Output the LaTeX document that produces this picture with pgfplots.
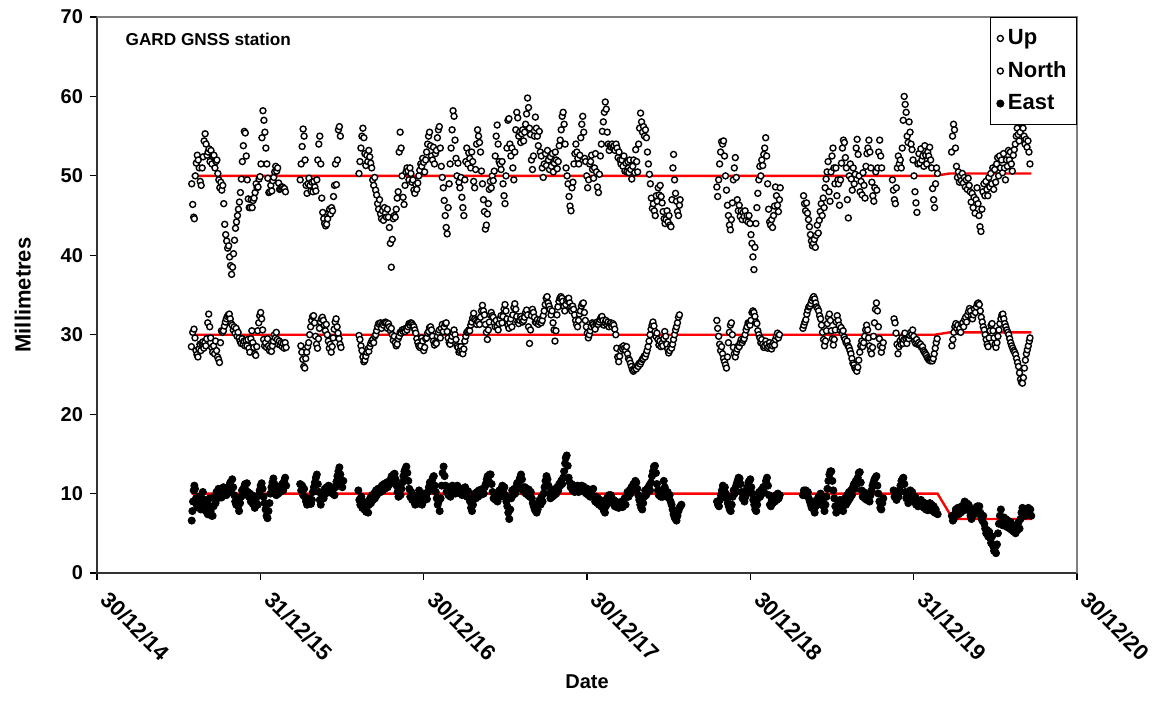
\documentclass[border=0pt]{standalone}
\usepackage{fontspec}
\setmainfont{Liberation Sans}
\usepackage{pgfplots}
\pgfplotsset{compat=1.18}
\begin{document}
\begin{tikzpicture}
\begin{axis}[
  scale only axis, width=490pt, height=278pt,
  xmin=0, xmax=6, ymin=0, ymax=70,
  clip=false,
  xtick={0,1,2,3,4,5,6},
  xticklabels={30/12/14,31/12/15,30/12/16,30/12/17,30/12/18,31/12/19,30/12/20},
  ytick={0,10,...,70},
  tick align=outside, xtick pos=bottom, ytick pos=left,
  major tick length=3.5pt,
  tick style={black, line width=0.6pt},
  axis line style={black!80, line width=0.7pt},
  /pgf/number format/assume math mode=true,
  ticklabel style={font=\bfseries},
  xticklabel style={xshift=7pt, rotate=-45, anchor=north west, font=\fontsize{11}{13}\selectfont\bfseries},
  xlabel={\bfseries Date}, ylabel={\fontsize{11}{13}\selectfont\bfseries Millimetres},
  xlabel style={yshift=2pt},
  ylabel shift=8pt,
  legend style={at={(1,1)}, anchor=north east, draw=black, font=\fontsize{11}{13}\selectfont\bfseries, row sep=3pt, inner xsep=3pt, inner ysep=4pt},
  legend image code/.code={\draw[mark repeat=2, mark phase=2, #1] plot coordinates {(0cm,0cm) (0.22cm,0cm) (0.44cm,0cm)};},
  legend cell align=left,
]
% fitted trend lines
\addplot[red, line width=1.2pt, forget plot] coordinates {(0.58,50) (5.13,50) (5.22,50.3) (5.72,50.3)};
\addplot[red, line width=1.2pt, forget plot] coordinates {(0.58,30) (5.13,30) (5.22,30.3) (5.72,30.3)};
\addplot[red, line width=1.2pt, forget plot] coordinates {(0.58,10) (5.146,10) (5.24,6.8) (5.72,6.8)};

% Up
\addplot[only marks, mark=*, mark size=1.5pt, mark options={fill=white, draw=black, line width=0.7pt}] coordinates {
(0.580,49.0) (0.586,46.4) (0.592,44.8) (0.596,44.6) (0.602,50.0) (0.608,51.6) (0.614,52.6) (0.620,52.0) (0.626,51.0) (0.632,49.3) (0.638,48.8) (0.644,51.0) (0.650,52.4) (0.656,54.4) (0.662,55.3) (0.668,54.0) (0.674,52.6) (0.680,53.0) (0.686,53.4) (0.692,51.8) (0.698,53.2) (0.704,51.5) (0.710,52.6) (0.716,52.6) (0.722,51.0) (0.728,51.8) (0.734,52.0) (0.740,50.3) (0.746,49.5) (0.752,48.5) (0.758,49.2) (0.764,48.2) (0.770,48.8) (0.776,46.5) (0.782,43.9) (0.788,42.6) (0.794,41.8) (0.800,40.9) (0.806,41.2) (0.812,39.8) (0.818,38.7) (0.824,37.6) (0.830,38.5) (0.836,40.2) (0.842,41.9) (0.848,43.4) (0.854,44.2) (0.860,45.0) (0.866,45.8) (0.872,46.7) (0.878,47.9) (0.884,49.6) (0.890,51.8) (0.896,53.8) (0.902,55.6) (0.908,55.4) (0.914,52.5) (0.920,49.5) (0.926,47.1) (0.932,46.0) (0.938,46.0) (0.944,47.0) (0.950,46.0) (0.956,46.9) (0.962,47.2) (0.968,47.9) (0.974,49.0) (0.980,48.5) (0.986,48.6) (0.992,49.6) (0.998,49.9) (1.004,51.5) (1.010,54.8) (1.016,58.2) (1.022,57.0) (1.028,55.5) (1.034,53.5) (1.040,51.5) (1.046,49.7) (1.052,47.9) (1.058,48.0) (1.064,48.8) (1.070,48.1) (1.076,49.4) (1.082,49.8) (1.088,50.5) (1.094,51.2) (1.100,50.6) (1.106,51.0) (1.112,49.1) (1.118,48.3) (1.124,48.4) (1.130,48.6) (1.136,48.6) (1.142,48.4) (1.148,48.4) (1.154,48.0)
(1.244,49.5) (1.250,51.5) (1.256,53.7) (1.262,55.9) (1.268,55.0) (1.274,52.0) (1.280,48.8) (1.286,47.8) (1.292,49.0) (1.298,49.7) (1.304,48.8) (1.310,48.1) (1.316,49.2) (1.322,48.0) (1.328,49.3) (1.334,48.6) (1.340,48.1) (1.346,49.5) (1.352,52.0) (1.358,54.0) (1.364,55.0) (1.370,51.5) (1.376,47.2) (1.382,45.4) (1.388,44.6) (1.394,44.0) (1.400,43.7) (1.406,43.9) (1.412,44.6) (1.418,45.3) (1.424,45.8) (1.430,45.2) (1.436,46.0) (1.442,45.6) (1.448,47.4) (1.454,48.8) (1.460,51.5) (1.466,48.9) (1.472,52.0) (1.478,55.8) (1.484,56.2) (1.490,55.0)
(1.604,50.3) (1.610,51.8) (1.616,53.5) (1.622,55.0) (1.628,56.0) (1.634,54.8) (1.640,52.8) (1.646,51.3) (1.652,52.6) (1.658,51.8) (1.664,53.2) (1.670,52.4) (1.676,51.6) (1.682,51.0) (1.688,49.5) (1.694,48.8) (1.700,49.8) (1.706,48.2) (1.712,47.6) (1.718,46.5) (1.724,45.8) (1.730,47.0) (1.736,45.2) (1.742,44.6) (1.748,45.6) (1.754,44.4) (1.760,46.0) (1.766,45.3) (1.772,44.8) (1.778,45.8) (1.784,44.8) (1.790,43.5) (1.796,41.5) (1.802,38.5) (1.808,42.0) (1.814,44.6) (1.820,45.0) (1.826,44.8) (1.832,45.8) (1.838,47.2) (1.844,48.0) (1.850,53.0) (1.856,55.5) (1.862,53.5) (1.868,50.0) (1.874,47.3) (1.880,46.4) (1.886,48.8) (1.892,50.5) (1.898,51.0) (1.904,50.6) (1.910,49.5) (1.916,51.0) (1.922,50.3) (1.928,49.2) (1.934,49.5) (1.940,48.2) (1.946,47.8) (1.952,48.9) (1.958,48.3) (1.964,49.1) (1.970,50.0) (1.976,50.7) (1.982,51.5) (1.988,51.2) (1.994,52.2) (2.000,51.7)
(2.006,50.5) (2.012,52.0) (2.018,53.0) (2.024,54.0) (2.030,55.0) (2.036,55.5) (2.042,53.8) (2.048,52.5) (2.054,52.0) (2.060,53.6) (2.066,51.5) (2.072,52.8) (2.078,53.2) (2.084,54.8) (2.090,55.8) (2.096,56.2) (2.102,53.5) (2.108,51.2) (2.114,49.8) (2.120,48.5) (2.126,46.9) (2.132,45.0) (2.138,43.5) (2.144,42.7) (2.150,46.0) (2.156,49.0) (2.162,51.5) (2.168,53.5) (2.174,55.8) (2.180,58.2) (2.186,57.5) (2.192,54.5) (2.198,52.2) (2.204,50.0) (2.210,51.6) (2.216,49.2) (2.222,48.5) (2.228,49.8) (2.234,47.3) (2.240,46.0) (2.246,45.0) (2.252,49.5) (2.258,51.8) (2.264,53.5) (2.270,51.5) (2.276,52.9) (2.282,52.2) (2.288,51.0) (2.294,53.0) (2.300,51.8) (2.306,49.3) (2.312,48.5) (2.318,50.8) (2.324,54.0) (2.330,55.8) (2.336,55.0) (2.342,54.2) (2.348,53.0) (2.354,50.6) (2.360,49.0) (2.366,47.0) (2.372,45.5) (2.378,43.3) (2.384,43.8) (2.390,45.2) (2.396,46.5) (2.402,48.3) (2.408,49.3) (2.414,48.5) (2.420,50.0) (2.426,49.4) (2.432,50.6) (2.438,52.5) (2.444,55.0) (2.450,56.4) (2.456,54.0) (2.462,51.8) (2.468,51.5) (2.474,50.8) (2.480,51.8) (2.486,49.0) (2.492,47.5) (2.498,46.5) (2.504,50.0) (2.510,53.5) (2.516,57.0) (2.522,57.2) (2.528,54.0) (2.534,52.5) (2.540,53.5) (2.546,51.0) (2.552,49.5) (2.558,53.0) (2.564,55.8) (2.570,58.0) (2.576,57.3) (2.582,55.0) (2.588,55.5) (2.594,54.2) (2.600,55.3) (2.606,55.8) (2.612,54.4) (2.618,55.5) (2.624,56.5) (2.630,57.8) (2.636,59.8) (2.642,58.6) (2.648,56.0) (2.654,55.2) (2.660,52.0) (2.666,50.8) (2.672,52.5) (2.678,55.0) (2.684,57.4) (2.690,56.0) (2.696,55.0) (2.702,53.8) (2.708,55.6) (2.714,53.0) (2.720,52.5) (2.726,51.0) (2.732,49.8) (2.738,51.5) (2.746,52.8) (2.752,51.3) (2.758,53.2) (2.764,52.0) (2.770,50.8) (2.776,52.4) (2.782,51.2) (2.788,52.8) (2.794,50.5) (2.800,51.6) (2.806,53.0) (2.812,52.0) (2.818,50.9) (2.824,51.8) (2.830,53.8) (2.836,54.5) (2.842,55.8) (2.848,57.5) (2.854,58.0) (2.860,56.5) (2.866,54.0) (2.872,51.0) (2.878,50.0) (2.884,49.0) (2.890,47.4) (2.896,46.2) (2.902,45.6) (2.908,48.5) (2.914,49.2) (2.920,51.5) (2.926,52.8) (2.932,54.0) (2.938,53.0) (2.944,52.2) (2.950,51.5) (2.956,52.6) (2.962,54.8) (2.968,56.5) (2.974,57.5) (2.980,55.5) (2.986,52.2) (2.992,51.8)
(2.998,50.0) (3.004,48.5) (3.010,49.5) (3.016,51.5) (3.022,51.8) (3.028,52.6) (3.034,50.8) (3.040,49.7) (3.046,51.0) (3.052,52.8) (3.058,50.5) (3.064,48.6) (3.070,47.9) (3.076,50.2) (3.082,52.5) (3.088,54.0) (3.094,55.6) (3.100,56.8) (3.106,58.0) (3.112,59.3) (3.118,58.4) (3.124,55.5) (3.130,54.0) (3.136,53.2) (3.142,53.8) (3.148,53.6) (3.154,54.0) (3.160,53.6) (3.166,53.8) (3.172,53.2) (3.178,54.0) (3.184,53.5) (3.190,52.3) (3.196,53.0) (3.202,52.0) (3.208,51.5) (3.214,52.0) (3.220,51.2) (3.226,52.5) (3.232,50.6) (3.238,51.6) (3.244,50.5) (3.250,51.8) (3.256,50.4) (3.262,52.0) (3.268,50.8) (3.274,49.6) (3.280,51.2) (3.286,52.0) (3.292,50.4) (3.298,53.3) (3.304,51.8) (3.310,50.5) (3.316,54.0) (3.322,56.0) (3.328,57.9) (3.334,56.8) (3.340,55.5) (3.346,56.2) (3.352,55.0) (3.358,55.8) (3.364,54.8) (3.370,53.0) (3.376,51.5) (3.382,50.2) (3.388,49.0) (3.394,47.2) (3.400,45.9) (3.406,46.5) (3.412,45.6) (3.418,45.0) (3.424,47.5) (3.430,46.8) (3.436,48.5) (3.442,47.6) (3.448,48.8) (3.454,47.4) (3.460,46.6) (3.466,45.5) (3.472,44.6) (3.478,44.0) (3.484,44.5) (3.490,45.6) (3.496,44.2) (3.502,45.0) (3.508,43.8) (3.514,43.6) (3.520,47.0) (3.526,51.0) (3.530,52.7) (3.536,49.5) (3.542,47.8) (3.548,46.8) (3.554,45.5) (3.560,45.0) (3.566,46.3) (3.570,47.0)
(3.795,48.6) (3.800,47.4) (3.806,49.5) (3.812,51.5) (3.818,53.0) (3.824,54.3) (3.830,54.0) (3.836,54.4) (3.842,52.5) (3.848,50.0) (3.854,48.2) (3.860,46.3) (3.866,45.0) (3.872,43.8) (3.878,43.2) (3.884,44.5) (3.890,46.6) (3.896,49.5) (3.902,51.0) (3.908,52.3) (3.914,49.8) (3.920,47.0) (3.926,45.6) (3.932,46.3) (3.938,44.9) (3.944,45.6) (3.950,44.5) (3.956,45.4) (3.962,44.9) (3.968,45.6) (3.974,44.4) (3.980,45.0) (3.986,44.2) (3.992,45.0) (3.998,44.0) (4.004,42.6) (4.010,41.5) (4.016,39.8) (4.022,38.2) (4.028,41.0) (4.034,44.0) (4.040,46.0) (4.046,47.8) (4.052,49.5) (4.058,51.2) (4.064,50.0) (4.070,52.0) (4.076,51.3) (4.082,52.7) (4.088,53.5) (4.094,54.8) (4.100,52.5) (4.106,49.0) (4.112,45.8) (4.118,44.2) (4.124,43.8) (4.130,44.5) (4.136,43.5) (4.142,45.0) (4.148,46.2) (4.154,48.6) (4.160,47.5) (4.166,46.3) (4.172,45.5) (4.178,47.0) (4.183,48.5)
(4.326,47.5) (4.332,46.5) (4.338,45.6) (4.344,46.6) (4.350,45.3) (4.356,44.5) (4.362,43.6) (4.368,42.6) (4.374,41.8) (4.380,41.2) (4.386,41.5) (4.392,42.0) (4.398,41.0) (4.404,42.5) (4.410,43.8) (4.416,42.8) (4.422,44.4) (4.428,45.5) (4.434,46.5) (4.440,45.0) (4.446,47.2) (4.452,46.0) (4.458,48.5) (4.464,49.6) (4.470,50.5) (4.476,51.8) (4.482,48.0) (4.488,46.8) (4.494,50.5) (4.500,52.5) (4.506,53.5) (4.512,51.0) (4.518,49.0) (4.524,51.0) (4.530,47.5) (4.536,49.5)
(4.540,49.0) (4.546,46.3) (4.552,49.5) (4.558,51.6) (4.564,53.5) (4.570,54.5) (4.576,54.2) (4.582,52.3) (4.588,51.0) (4.594,47.0) (4.600,44.7) (4.606,50.0) (4.612,51.5) (4.618,49.6) (4.624,48.2) (4.630,51.0) (4.636,49.0) (4.642,50.2) (4.648,53.5) (4.654,54.6) (4.660,52.7) (4.666,50.0) (4.672,48.0) (4.678,49.3) (4.684,47.6) (4.690,50.4) (4.696,48.8) (4.702,47.2) (4.708,51.2) (4.714,52.8) (4.720,53.5) (4.726,54.5) (4.732,53.0) (4.738,51.0) (4.744,49.2) (4.750,47.5) (4.756,46.8) (4.762,48.5) (4.768,50.5) (4.774,48.2) (4.780,51.0) (4.786,53.0) (4.792,54.5) (4.798,52.5) (4.804,51.0)
(4.870,49.5) (4.876,48.2) (4.882,47.0) (4.888,46.5) (4.894,48.5) (4.900,51.0) (4.906,52.5) (4.912,51.5) (4.918,52.0) (4.924,51.0) (4.930,53.5) (4.936,57.0) (4.942,60.0) (4.948,59.0) (4.954,58.0) (4.960,55.0) (4.966,54.2) (4.972,56.8) (4.978,55.5) (4.984,54.0) (4.990,53.3) (4.996,52.0) (5.002,50.0) (5.008,48.0) (5.014,46.6) (5.020,45.4) (5.026,51.5) (5.032,52.8) (5.038,51.6) (5.044,53.4) (5.050,52.0) (5.056,52.5) (5.062,51.2) (5.068,53.8) (5.074,52.6) (5.080,51.5) (5.086,53.0) (5.092,52.5) (5.098,53.6) (5.104,52.0) (5.110,51.0) (5.116,48.4) (5.122,47.0) (5.128,46.0) (5.134,49.0) (5.140,51.0) (5.146,50.3)
(5.232,53.0) (5.238,55.0) (5.244,56.5) (5.250,55.8) (5.256,53.5) (5.262,51.2) (5.268,49.8) (5.274,50.5) (5.280,49.2) (5.286,50.0) (5.292,49.4) (5.298,50.3) (5.304,49.1) (5.310,49.8) (5.316,48.6) (5.322,49.5) (5.328,48.3) (5.334,49.7) (5.340,48.8) (5.346,48.0) (5.352,46.7) (5.358,47.8) (5.364,46.0) (5.370,47.3) (5.376,45.3) (5.382,47.0) (5.388,48.5) (5.394,46.5) (5.400,45.0) (5.406,43.6) (5.412,43.0) (5.418,45.8) (5.424,48.0) (5.430,49.0) (5.436,47.5) (5.442,49.3) (5.448,48.3) (5.454,47.5) (5.460,49.8) (5.466,48.6) (5.472,50.3) (5.478,49.0) (5.484,51.0) (5.490,48.3) (5.496,50.8) (5.502,49.2) (5.508,51.5) (5.514,52.3) (5.520,50.0) (5.526,52.5) (5.532,51.0) (5.538,52.0) (5.544,50.4) (5.550,52.8) (5.556,51.0) (5.562,49.5) (5.568,52.0) (5.574,51.2) (5.580,53.2) (5.586,52.0) (5.592,53.0) (5.598,51.5) (5.604,50.6) (5.610,52.6) (5.616,53.3) (5.622,54.0) (5.628,55.0) (5.634,56.0) (5.640,55.2) (5.646,54.4) (5.652,55.5) (5.658,56.7) (5.664,56.9) (5.670,56.0) (5.676,55.0) (5.682,54.0) (5.688,54.6) (5.694,53.6) (5.700,54.4) (5.706,53.0) (5.712,51.5)
};
\addlegendentry{Up}

% North
\addplot[only marks, mark=*, mark size=1.5pt, mark options={fill=white, draw=black, line width=0.7pt}] coordinates {
(0.578,28.5) (0.586,30.3) (0.594,30.7) (0.600,29.6) (0.606,28.0) (0.612,27.5) (0.618,27.2) (0.624,28.2) (0.630,28.8) (0.636,28.0) (0.642,28.9) (0.648,29.1) (0.654,28.3) (0.660,29.0) (0.666,28.6) (0.672,29.5) (0.678,31.5) (0.684,32.6) (0.690,31.0) (0.696,29.6) (0.702,28.4) (0.708,27.8) (0.714,28.6) (0.720,27.6) (0.726,29.2) (0.732,28.0) (0.738,27.2) (0.744,26.9) (0.750,26.5) (0.756,29.0) (0.762,30.5) (0.768,30.3) (0.774,30.5) (0.780,31.1) (0.786,31.6) (0.792,32.0) (0.798,32.3) (0.804,32.5) (0.810,32.6) (0.816,32.0) (0.822,31.4) (0.828,31.2) (0.834,30.6) (0.840,31.0) (0.846,30.2) (0.852,30.8) (0.858,29.8) (0.864,30.3) (0.870,29.6) (0.876,29.2) (0.882,28.9) (0.888,29.5) (0.894,28.8) (0.900,29.2) (0.906,28.6) (0.912,29.3) (0.918,28.6) (0.924,29.4) (0.930,28.3) (0.936,27.8) (0.942,29.5) (0.948,30.5) (0.954,29.0) (0.960,28.4) (0.966,27.6) (0.972,27.4) (0.978,28.5) (0.984,30.5) (0.990,31.5) (0.996,32.4) (1.002,32.8) (1.008,32.0) (1.014,30.6) (1.020,29.4) (1.026,28.6) (1.032,29.0) (1.038,28.4) (1.044,29.5) (1.050,28.6) (1.056,28.0) (1.062,28.4) (1.068,27.9) (1.074,28.6) (1.080,29.2) (1.086,30.0) (1.092,29.6) (1.098,30.3) (1.104,29.4) (1.110,28.8) (1.116,29.2) (1.122,28.7) (1.128,29.0) (1.134,28.5) (1.140,28.9) (1.146,28.3) (1.152,29.0) (1.158,28.4)
(1.248,28.6) (1.254,27.8) (1.260,26.9) (1.266,26.0) (1.272,25.8) (1.278,27.0) (1.284,27.8) (1.290,28.5) (1.296,29.0) (1.302,30.0) (1.308,31.0) (1.314,31.8) (1.320,32.3) (1.326,32.4) (1.332,31.5) (1.338,29.8) (1.344,28.8) (1.350,28.3) (1.356,29.5) (1.362,30.8) (1.368,31.6) (1.374,32.0) (1.380,32.2) (1.386,31.8) (1.392,31.2) (1.398,30.5) (1.404,31.3) (1.410,30.0) (1.416,29.2) (1.422,28.3) (1.428,28.8) (1.434,27.8) (1.440,28.5) (1.446,29.6) (1.452,30.7) (1.458,31.6) (1.464,32.0) (1.470,31.0) (1.476,30.2) (1.482,29.5) (1.488,28.8) (1.494,28.4)
(1.604,29.9) (1.610,29.4) (1.616,28.6) (1.622,28.0) (1.628,27.2) (1.634,26.6) (1.640,26.8) (1.646,27.3) (1.652,27.8) (1.658,28.2) (1.664,27.9) (1.670,28.5) (1.676,28.9) (1.682,29.2) (1.688,29.4) (1.694,29.0) (1.700,29.8) (1.706,30.0) (1.712,30.5) (1.718,31.0) (1.724,31.4) (1.730,31.3) (1.736,31.5) (1.742,30.8) (1.748,31.4) (1.754,31.2) (1.760,31.5) (1.766,31.6) (1.772,31.5) (1.778,30.8) (1.784,31.4) (1.790,31.0) (1.796,30.5) (1.802,30.8) (1.808,30.0) (1.814,29.3) (1.820,29.8) (1.826,29.0) (1.832,28.6) (1.838,28.8) (1.844,29.5) (1.850,29.8) (1.856,30.3) (1.862,30.2) (1.868,30.6) (1.874,30.4) (1.880,30.7) (1.886,30.4) (1.892,30.8) (1.898,30.6) (1.904,31.0) (1.910,31.4) (1.916,31.2) (1.922,31.5) (1.928,31.4) (1.934,31.2) (1.940,31.0) (1.946,30.6) (1.952,30.2) (1.958,29.5) (1.964,29.0) (1.970,28.6) (1.976,28.4)
(1.982,28.6) (1.988,29.6) (1.994,29.2) (2.000,28.0) (2.006,28.4) (2.012,29.5) (2.018,29.6) (2.024,30.2) (2.030,30.4) (2.036,30.9) (2.042,31.0) (2.048,30.6) (2.054,29.8) (2.060,29.2) (2.066,28.7) (2.072,29.0) (2.078,28.9) (2.084,29.8) (2.090,30.3) (2.096,30.6) (2.102,29.6) (2.108,30.8) (2.114,31.3) (2.120,30.4) (2.126,31.0) (2.132,31.4) (2.138,31.5) (2.144,30.4) (2.150,29.6) (2.156,29.0) (2.162,28.8) (2.168,29.3) (2.174,29.8) (2.180,30.3) (2.186,30.6) (2.192,30.0) (2.198,29.4) (2.204,28.6) (2.210,28.4) (2.216,27.8) (2.222,28.0) (2.228,28.5) (2.234,28.0) (2.240,27.6) (2.246,28.2) (2.252,29.2) (2.258,29.8) (2.264,30.3) (2.270,30.4) (2.276,30.6) (2.282,30.5) (2.288,31.2) (2.294,31.6) (2.300,32.1) (2.306,32.7) (2.312,32.0) (2.318,31.8) (2.324,31.3) (2.330,31.7) (2.336,31.6) (2.342,31.3) (2.348,32.2) (2.354,33.0) (2.360,33.7) (2.366,33.0) (2.372,32.5) (2.378,31.3) (2.384,30.3) (2.390,29.4) (2.396,30.6) (2.402,31.6) (2.408,32.5) (2.414,32.8) (2.420,32.4) (2.426,32.2) (2.432,31.5) (2.438,31.0)
(2.444,31.8) (2.450,31.0) (2.456,30.6) (2.462,31.4) (2.468,32.0) (2.474,32.4) (2.480,31.5) (2.486,32.3) (2.492,33.2) (2.498,33.8) (2.504,33.0) (2.510,32.0) (2.516,31.2) (2.522,30.8) (2.528,31.5) (2.534,32.0) (2.540,31.0) (2.546,32.5) (2.552,33.4) (2.558,33.9) (2.564,33.2) (2.570,32.3) (2.576,31.6) (2.582,31.4) (2.588,31.8) (2.594,32.3) (2.600,32.0) (2.606,31.6) (2.612,31.8) (2.618,32.2) (2.624,32.8) (2.630,33.1) (2.636,32.5) (2.642,31.0) (2.648,28.9) (2.654,30.6) (2.660,32.4) (2.666,33.2) (2.672,32.8) (2.678,32.2) (2.684,31.6) (2.690,31.5) (2.696,31.9) (2.702,31.3) (2.708,31.6) (2.714,31.9) (2.720,31.5) (2.726,31.8) (2.732,32.4) (2.738,33.0) (2.744,33.8) (2.750,34.6) (2.756,34.8) (2.762,34.0) (2.768,33.6) (2.774,33.2) (2.780,32.5) (2.786,33.0) (2.792,31.5) (2.798,30.6) (2.804,29.2) (2.810,30.5) (2.816,32.5) (2.822,33.5) (2.828,34.2) (2.834,34.6) (2.840,34.8) (2.846,34.6) (2.852,34.2) (2.858,33.6) (2.864,33.0) (2.870,33.8) (2.876,34.3) (2.882,34.5) (2.888,34.6) (2.894,34.0) (2.900,33.5) (2.906,33.0) (2.912,33.6) (2.918,33.2) (2.924,32.5) (2.930,31.8) (2.936,31.3) (2.942,31.0) (2.948,31.8) (2.954,32.6) (2.960,33.0) (2.966,33.6) (2.972,33.9) (2.978,34.0) (2.984,32.8) (2.990,31.8) (2.996,31.0) (3.002,30.2) (3.008,29.6) (3.014,30.0) (3.020,30.5) (3.026,31.0) (3.032,31.5) (3.038,31.3) (3.044,31.0) (3.050,30.7) (3.056,31.4) (3.062,31.6) (3.068,31.3) (3.074,31.6) (3.080,31.9) (3.086,32.2) (3.092,32.3) (3.098,31.8) (3.104,31.2) (3.110,31.5) (3.116,31.8) (3.122,31.3) (3.128,31.6) (3.134,31.0) (3.140,31.4) (3.146,31.5) (3.152,31.0) (3.158,31.4) (3.164,31.2) (3.170,30.7) (3.176,30.0) (3.182,28.3) (3.188,27.2) (3.194,26.6) (3.200,27.3) (3.206,28.0) (3.212,28.4) (3.218,28.2) (3.224,28.6) (3.230,28.3) (3.236,28.0) (3.242,28.5) (3.248,27.6) (3.254,27.0) (3.260,26.8) (3.266,26.4) (3.272,26.0) (3.278,25.6)
(3.284,25.4) (3.290,25.6) (3.296,25.9) (3.302,25.7) (3.308,26.1) (3.314,26.0) (3.320,26.4) (3.326,26.3) (3.332,26.6) (3.338,26.9) (3.344,27.0) (3.350,27.3) (3.356,27.2) (3.362,27.6) (3.368,28.0) (3.374,28.5) (3.380,29.2) (3.386,30.0) (3.392,30.7) (3.398,31.2) (3.404,31.6) (3.410,31.1) (3.416,30.4) (3.422,29.8) (3.428,30.2) (3.434,29.4) (3.440,28.7) (3.446,29.2) (3.452,28.5) (3.458,28.9)
(3.464,28.6) (3.470,29.5) (3.476,30.4) (3.482,29.8) (3.488,28.8) (3.494,28.2) (3.500,27.7) (3.506,28.0) (3.512,28.6) (3.518,28.3) (3.524,28.8) (3.530,29.4) (3.536,30.0) (3.542,30.6) (3.548,31.0) (3.554,31.5) (3.560,32.2) (3.566,32.5)
(3.795,31.8) (3.800,30.8) (3.806,29.8) (3.812,28.8) (3.818,28.0) (3.824,28.5) (3.830,27.6) (3.836,27.0) (3.842,26.6) (3.848,26.2) (3.854,25.8) (3.860,27.2) (3.866,29.0) (3.872,30.3) (3.878,31.2) (3.884,31.5) (3.890,30.0) (3.896,28.4) (3.902,27.6) (3.908,27.2) (3.914,27.8) (3.920,28.2) (3.926,28.6) (3.932,28.5) (3.938,29.0) (3.944,29.4) (3.950,29.0) (3.956,29.3) (3.962,29.5) (3.968,30.0) (3.974,30.6) (3.980,31.0) (3.986,31.5) (3.992,31.4) (3.998,31.2) (4.004,31.8) (4.010,32.8) (4.016,33.0) (4.022,32.8) (4.028,32.3) (4.034,31.6) (4.040,31.4) (4.046,30.5) (4.052,30.0) (4.058,29.6) (4.064,29.0) (4.070,29.4) (4.076,28.8) (4.082,28.4) (4.088,28.6) (4.094,29.2) (4.100,28.8) (4.106,28.3) (4.112,28.5) (4.118,29.0) (4.124,28.6) (4.130,28.2) (4.136,28.6) (4.142,29.0) (4.148,28.7) (4.154,29.4) (4.160,29.8) (4.166,30.2) (4.172,29.6) (4.178,30.0)
(4.322,30.8) (4.328,31.2) (4.334,31.6) (4.340,31.9) (4.346,32.6) (4.352,33.1) (4.358,33.5) (4.364,33.6) (4.370,33.9) (4.376,34.3) (4.382,34.6) (4.388,34.8) (4.394,34.5) (4.400,34.0) (4.406,33.5) (4.412,33.3) (4.418,33.0) (4.424,32.4) (4.430,32.0) (4.436,31.2) (4.442,30.3) (4.448,29.4) (4.454,28.6) (4.460,29.2) (4.466,30.5) (4.472,31.4) (4.478,32.2) (4.484,32.6) (4.490,31.8) (4.496,30.5) (4.502,29.5) (4.508,28.7) (4.514,29.4) (4.520,30.6) (4.526,31.6) (4.532,32.4) (4.538,31.8) (4.544,31.2) (4.550,30.6) (4.556,30.9) (4.562,30.2) (4.568,30.5) (4.574,29.7) (4.580,29.4) (4.586,29.0) (4.592,29.2) (4.598,28.6) (4.604,28.4) (4.610,28.0) (4.616,27.6) (4.622,27.0) (4.628,26.4) (4.634,26.2) (4.640,25.8) (4.646,25.6)
(4.652,25.4) (4.658,25.9) (4.664,26.8) (4.670,27.8) (4.676,28.6) (4.682,29.2) (4.688,28.5) (4.694,29.0) (4.700,29.8) (4.706,30.6) (4.712,31.2) (4.718,30.6) (4.724,29.6) (4.730,28.6) (4.736,28.0) (4.742,27.6) (4.748,28.4) (4.754,29.8) (4.760,31.5) (4.766,33.2) (4.772,34.0) (4.778,33.0) (4.784,31.0) (4.790,29.5) (4.796,28.6) (4.802,27.8) (4.808,28.4) (4.814,29.0)
(4.880,32.0) (4.886,31.5) (4.892,30.2) (4.898,28.8) (4.904,27.6) (4.910,28.5) (4.916,29.2) (4.922,28.8) (4.928,29.6) (4.934,28.9) (4.940,29.4) (4.946,30.2) (4.952,29.5) (4.958,28.9) (4.964,29.6)
(4.970,29.5) (4.976,29.9) (4.982,30.3) (4.988,30.0) (4.994,30.6) (5.000,29.8) (5.006,29.2) (5.012,28.9) (5.018,29.4) (5.024,28.8) (5.030,29.0) (5.036,28.7) (5.042,28.8) (5.048,28.4) (5.054,28.5) (5.060,28.0) (5.066,27.8) (5.072,27.6) (5.078,27.4) (5.084,27.1) (5.090,26.9) (5.096,26.8) (5.102,26.7) (5.108,26.9) (5.114,26.7) (5.120,27.0) (5.126,27.6) (5.132,28.3) (5.138,29.0) (5.144,29.5)
(5.234,28.6) (5.240,29.4) (5.246,30.3) (5.252,31.0) (5.258,31.4) (5.264,30.8) (5.270,31.2) (5.276,30.4) (5.282,30.8) (5.288,30.3) (5.294,31.3) (5.300,31.5) (5.306,31.0) (5.312,31.9) (5.318,32.2) (5.324,31.6) (5.330,32.5) (5.336,32.9) (5.342,33.3) (5.348,33.0) (5.354,32.4) (5.360,32.0) (5.366,32.5) (5.372,33.2) (5.378,32.8) (5.384,33.5) (5.390,33.9) (5.396,34.0) (5.402,33.8) (5.408,33.0) (5.414,32.2) (5.420,31.6) (5.426,31.0) (5.432,30.6) (5.438,30.0) (5.444,29.4) (5.450,28.8) (5.456,28.5) (5.462,29.6) (5.468,30.5) (5.474,31.2) (5.480,31.4) (5.486,30.5) (5.492,29.6) (5.498,28.8) (5.504,28.4) (5.510,29.0) (5.516,29.8) (5.522,30.6) (5.528,31.4) (5.534,32.0) (5.540,32.5) (5.546,32.6) (5.552,32.0) (5.558,31.4) (5.564,31.0) (5.570,30.6) (5.576,30.3) (5.582,30.0) (5.588,29.5) (5.594,29.0) (5.600,28.6) (5.606,28.3) (5.612,28.0) (5.618,27.8) (5.624,27.5) (5.630,27.0) (5.636,26.5) (5.642,26.0) (5.648,25.2) (5.654,24.4) (5.660,24.0) (5.666,23.9) (5.672,24.6) (5.678,25.8) (5.684,26.8) (5.690,27.6) (5.696,28.1) (5.702,28.6) (5.708,29.2) (5.712,29.6)
};
\addlegendentry{North}

% East
\addplot[only marks, mark=*, mark size=1.8pt, black] coordinates {
(0.580,6.6) (0.584,7.8) (0.588,9.0) (0.592,10.4) (0.596,11.0) (0.600,10.6) (0.606,9.4) (0.612,8.5) (0.618,9.6) (0.624,8.2) (0.630,9.0) (0.636,8.0) (0.642,9.4) (0.648,10.2) (0.654,8.6) (0.660,9.2) (0.666,7.8) (0.672,8.9) (0.678,7.4) (0.684,8.5) (0.690,9.4) (0.696,7.8) (0.702,7.2)
(0.708,7.2) (0.714,8.4) (0.720,9.6) (0.726,8.8) (0.732,10.2) (0.738,9.4) (0.744,10.6) (0.750,9.8) (0.756,10.4) (0.762,9.5) (0.768,10.3) (0.774,10.8) (0.780,10.0) (0.786,10.6) (0.792,9.8) (0.798,10.5) (0.804,10.2) (0.810,11.0) (0.816,11.4) (0.822,10.6) (0.828,11.8) (0.834,10.8) (0.840,9.8) (0.846,9.0) (0.852,8.6) (0.858,9.4) (0.864,8.4) (0.870,7.8) (0.876,8.8) (0.882,9.6) (0.888,10.4) (0.894,9.8) (0.900,10.8) (0.906,11.2) (0.912,10.4) (0.918,11.3) (0.924,10.2) (0.930,9.6) (0.936,10.0) (0.942,9.0) (0.948,9.8) (0.954,8.7) (0.960,9.4) (0.966,8.2) (0.972,9.0) (0.978,9.6) (0.984,8.6) (0.990,9.8) (0.996,10.4) (1.002,11.0) (1.008,11.3) (1.014,10.6) (1.020,9.6) (1.026,8.8) (1.032,8.0) (1.038,7.2) (1.044,6.9) (1.050,7.8) (1.056,8.8) (1.062,10.0) (1.068,10.8) (1.074,11.4) (1.080,11.9) (1.086,11.2) (1.092,10.4) (1.098,9.8) (1.104,10.6) (1.110,10.0) (1.116,10.9) (1.122,10.2) (1.128,10.8) (1.134,11.2) (1.140,10.4) (1.146,11.6) (1.152,12.0) (1.158,11.0)
(1.244,11.2) (1.250,10.4) (1.256,11.0) (1.262,9.8) (1.268,10.6) (1.274,9.5) (1.280,9.0) (1.286,8.6) (1.292,9.2) (1.298,8.8) (1.304,9.4) (1.310,8.7) (1.316,9.2) (1.322,10.2) (1.328,10.8) (1.334,11.4) (1.340,12.0) (1.346,12.4) (1.352,11.2) (1.358,10.2) (1.364,9.2) (1.370,8.6) (1.376,9.4) (1.382,10.2) (1.388,9.4) (1.394,10.6) (1.400,10.0) (1.406,10.8) (1.412,10.3) (1.418,11.0) (1.424,10.4)
(1.430,10.2) (1.436,10.8) (1.442,10.0) (1.448,10.6) (1.454,9.8) (1.460,10.8) (1.466,11.5) (1.472,12.2) (1.478,12.8) (1.484,13.3) (1.490,12.4) (1.496,11.4) (1.502,10.8) (1.508,11.6)
(1.600,10.4) (1.606,9.2) (1.612,8.6) (1.618,9.6) (1.624,8.2) (1.630,9.0) (1.636,8.0) (1.642,8.8) (1.648,7.7) (1.654,8.4) (1.660,7.6) (1.666,8.6) (1.672,9.4) (1.678,8.8) (1.684,9.8) (1.690,9.2) (1.696,10.0) (1.702,9.4) (1.708,10.4) (1.714,9.8) (1.720,10.6) (1.726,10.2)
(1.732,10.6) (1.738,10.2) (1.744,11.0) (1.750,10.4) (1.756,11.2) (1.762,10.6) (1.768,11.0) (1.774,11.4) (1.780,10.8) (1.786,11.5) (1.792,11.2) (1.798,11.8) (1.804,12.2) (1.810,11.6) (1.816,12.4) (1.822,12.5) (1.828,11.8) (1.834,11.0) (1.840,10.2) (1.846,9.6) (1.852,10.4) (1.858,9.8) (1.864,10.6) (1.870,11.4) (1.876,12.2) (1.882,12.8) (1.888,13.1) (1.894,13.4) (1.900,12.6) (1.906,11.6) (1.912,10.6) (1.918,9.6) (1.924,10.2) (1.930,9.2) (1.936,9.8) (1.942,9.0) (1.948,8.6) (1.954,9.2) (1.960,8.7) (1.966,9.6) (1.972,10.4) (1.978,9.8)
(1.984,9.0) (1.990,8.6) (1.996,9.4) (2.002,10.0) (2.008,9.2) (2.014,9.8) (2.020,9.3) (2.026,10.2) (2.032,10.8) (2.038,11.4) (2.044,10.6) (2.050,11.6) (2.056,12.0) (2.062,12.2) (2.068,11.0) (2.074,10.2) (2.080,9.4) (2.086,8.6) (2.092,9.0) (2.098,7.8) (2.104,9.4) (2.110,11.0) (2.116,12.6) (2.122,13.4) (2.128,12.2) (2.134,11.0) (2.140,10.2) (2.146,10.8) (2.152,9.8) (2.158,10.6) (2.164,9.6) (2.170,10.4) (2.176,11.0) (2.182,10.2) (2.188,10.8) (2.194,10.0) (2.200,10.6) (2.206,11.0) (2.212,10.2) (2.218,10.7) (2.224,10.0) (2.230,10.6) (2.236,9.8) (2.242,10.5) (2.248,10.0) (2.254,10.8) (2.260,10.2) (2.266,9.6) (2.272,10.3) (2.278,9.4) (2.284,9.0) (2.290,8.2) (2.296,7.8) (2.302,8.6) (2.308,9.4) (2.314,10.0) (2.320,9.4) (2.326,10.2) (2.332,9.6) (2.338,10.4) (2.344,9.8) (2.350,10.5) (2.356,9.9) (2.362,10.6) (2.368,10.0) (2.374,10.8) (2.380,11.2) (2.386,11.8) (2.392,12.2) (2.398,11.6) (2.404,12.4) (2.410,12.4) (2.416,11.2) (2.422,10.2) (2.428,9.4) (2.434,10.0) (2.440,9.2) (2.446,10.0) (2.452,9.0) (2.458,9.8) (2.464,10.4) (2.470,9.6) (2.476,10.6) (2.482,11.0) (2.488,10.2) (2.494,10.8) (2.500,9.8) (2.506,9.0) (2.512,8.4) (2.518,7.6) (2.524,6.8) (2.530,8.0) (2.536,9.4) (2.542,10.4) (2.548,9.8) (2.554,10.6) (2.560,10.0) (2.566,10.8) (2.572,11.3) (2.578,10.6) (2.584,11.6) (2.590,12.0) (2.596,12.4) (2.602,11.8) (2.608,10.8) (2.614,10.2) (2.620,10.8) (2.626,10.0) (2.632,10.6) (2.638,9.8) (2.644,10.5) (2.650,9.6) (2.656,10.2) (2.662,9.4) (2.668,8.8) (2.674,8.4) (2.680,8.0) (2.686,7.8) (2.692,7.6) (2.698,8.0) (2.704,8.6) (2.710,9.2) (2.716,8.6) (2.722,9.6) (2.728,9.0) (2.734,10.0) (2.740,10.8) (2.746,11.6) (2.752,12.2) (2.758,11.8) (2.764,11.0) (2.770,10.0) (2.776,9.4) (2.782,10.2) (2.788,9.6) (2.794,10.4) (2.800,9.8) (2.806,10.6) (2.812,10.0) (2.818,10.8) (2.824,10.4) (2.830,11.2) (2.836,11.0) (2.842,11.6) (2.848,11.2) (2.854,12.0) (2.860,12.8) (2.866,13.8) (2.870,14.5) (2.876,14.8) (2.882,13.5) (2.888,12.0) (2.894,11.4) (2.900,10.8) (2.906,11.2) (2.912,10.4) (2.918,11.0) (2.924,10.2) (2.930,10.8) (2.936,10.4) (2.942,11.0) (2.948,10.2) (2.954,10.8) (2.960,10.3) (2.966,11.0) (2.972,10.4) (2.978,10.9) (2.984,10.2) (2.990,10.7) (2.996,10.0) (3.002,10.6) (3.008,9.8) (3.014,10.4) (3.020,9.6) (3.026,10.4) (3.032,9.8) (3.038,10.6) (3.044,9.6) (3.050,9.0) (3.056,9.6) (3.062,8.8) (3.068,9.4) (3.074,8.6) (3.080,9.2) (3.086,8.4) (3.092,8.8) (3.098,8.2) (3.104,7.8) (3.110,7.6) (3.116,8.4) (3.122,9.4) (3.128,8.8) (3.134,9.8) (3.140,9.2) (3.146,9.8) (3.152,9.4) (3.158,8.8) (3.164,9.2) (3.170,8.4) (3.176,9.0) (3.182,8.3) (3.188,8.8) (3.194,8.2) (3.200,8.8) (3.206,8.4) (3.212,9.0) (3.218,8.3) (3.224,8.9) (3.230,9.4) (3.236,8.6) (3.242,9.6) (3.248,10.2) (3.254,9.6) (3.260,10.4) (3.266,10.0) (3.272,10.8) (3.278,10.4) (3.284,11.2) (3.290,11.0) (3.296,11.6) (3.302,11.4) (3.308,10.6) (3.314,9.8) (3.320,9.2) (3.326,8.6) (3.332,8.2) (3.338,8.0) (3.344,8.8) (3.350,9.6) (3.356,10.4) (3.362,9.8) (3.368,10.6) (3.374,10.2) (3.380,11.0) (3.386,10.4) (3.392,11.4) (3.398,12.2) (3.404,12.8) (3.410,13.4) (3.416,13.5) (3.422,12.6) (3.428,11.2) (3.434,10.4) (3.440,9.8) (3.446,10.4) (3.452,9.6) (3.458,10.2) (3.464,9.6)
(3.470,11.6) (3.476,10.8) (3.482,10.2) (3.488,9.6) (3.494,10.2) (3.500,9.5) (3.506,9.8) (3.512,9.0) (3.518,8.6) (3.524,8.0) (3.530,7.4) (3.536,7.0) (3.542,6.8) (3.548,6.6) (3.554,7.2) (3.560,7.8) (3.566,8.2) (3.572,8.4) (3.578,8.6)
(3.796,9.0) (3.802,8.6) (3.808,8.4) (3.814,9.2) (3.820,9.8) (3.826,10.4) (3.832,11.0) (3.838,10.4) (3.844,10.8) (3.850,10.0) (3.856,9.4) (3.862,8.8) (3.868,8.4) (3.874,8.0) (3.880,7.8) (3.886,8.6) (3.892,9.6) (3.898,10.4) (3.904,10.0) (3.910,10.8) (3.916,11.2) (3.922,11.6) (3.928,12.0) (3.934,11.9) (3.940,11.2) (3.946,10.2) (3.952,9.4) (3.958,9.8) (3.964,9.0) (3.970,9.6) (3.976,10.4) (3.982,10.8) (3.988,11.4) (3.994,11.6) (4.000,11.8) (4.006,10.8) (4.012,10.0) (4.018,9.2) (4.024,8.6) (4.030,8.0) (4.036,7.8) (4.042,8.6) (4.048,9.4) (4.054,10.2) (4.060,9.6) (4.066,10.4) (4.072,10.0) (4.078,10.8) (4.084,10.2) (4.090,11.0) (4.096,11.6) (4.102,12.0) (4.108,11.0) (4.114,9.8) (4.120,8.6) (4.126,8.4) (4.132,9.2) (4.138,8.8) (4.144,9.6) (4.150,9.0) (4.156,9.8) (4.162,9.2) (4.168,10.0) (4.174,9.4) (4.180,9.8)
(4.322,9.8) (4.328,10.4) (4.334,9.8) (4.340,10.4) (4.346,9.8) (4.352,10.2) (4.358,9.4) (4.364,9.0) (4.370,8.6) (4.376,8.2) (4.382,8.8) (4.388,8.0) (4.394,7.6) (4.400,8.4) (4.406,9.2) (4.412,8.6) (4.418,9.6) (4.424,9.0) (4.430,10.0) (4.436,9.4) (4.442,9.0) (4.448,8.4) (4.454,7.8) (4.460,8.6) (4.466,9.6) (4.472,10.6) (4.478,11.6) (4.484,12.4) (4.490,12.8) (4.496,12.8) (4.502,11.6) (4.508,10.4) (4.514,9.4) (4.520,8.4) (4.526,7.6) (4.532,8.2) (4.538,9.0) (4.544,8.2) (4.550,9.2) (4.556,8.0) (4.562,8.8) (4.568,7.8) (4.574,8.6) (4.580,9.4) (4.586,8.6) (4.592,9.8) (4.598,9.0) (4.604,10.2) (4.610,9.4) (4.616,10.4) (4.622,9.8) (4.628,10.8) (4.634,11.2) (4.640,10.6) (4.646,11.6) (4.652,11.2) (4.658,12.0) (4.664,12.6) (4.670,12.7) (4.676,11.4) (4.682,10.4) (4.688,9.6) (4.694,10.2) (4.700,9.4) (4.706,9.9) (4.712,9.2) (4.718,10.0) (4.724,9.4) (4.730,9.0) (4.736,9.8) (4.742,10.4) (4.748,11.0) (4.754,11.4) (4.760,11.8) (4.766,12.0) (4.772,12.2) (4.778,11.0) (4.784,10.0) (4.790,9.0) (4.796,8.2) (4.802,8.0) (4.808,8.8) (4.814,9.4)
(4.877,10.4) (4.883,9.6) (4.889,10.2) (4.895,9.2) (4.901,10.0) (4.907,9.6) (4.913,10.4) (4.919,11.0) (4.925,11.6) (4.931,11.8) (4.937,12.0) (4.943,11.2) (4.949,10.2) (4.955,9.4) (4.961,9.8) (4.967,8.8) (4.973,9.6) (4.979,10.4) (4.985,9.8) (4.991,10.2) (4.997,9.4) (5.003,9.0) (5.009,9.6) (5.015,8.6) (5.021,9.2) (5.027,8.4) (5.033,9.0) (5.039,8.6) (5.045,9.2) (5.051,8.4) (5.057,8.9) (5.063,8.2) (5.069,8.8) (5.075,8.0) (5.081,8.6) (5.087,7.9) (5.093,8.4) (5.099,8.8) (5.105,8.0) (5.111,8.6) (5.117,7.8) (5.123,8.4) (5.129,7.6) (5.135,8.0) (5.141,7.5) (5.147,7.4)
(5.234,7.2) (5.240,6.6) (5.246,6.8) (5.252,7.4) (5.258,8.0) (5.264,7.6) (5.270,8.2) (5.276,7.4) (5.282,8.0) (5.288,7.6) (5.294,8.4) (5.300,7.8) (5.306,8.6) (5.312,9.0) (5.318,8.4) (5.324,8.8) (5.330,8.0) (5.336,8.6) (5.342,7.8) (5.348,7.2) (5.354,6.8) (5.360,7.4) (5.366,8.0) (5.372,7.4) (5.378,8.2) (5.384,7.6) (5.390,8.4) (5.396,7.8) (5.402,8.4) (5.408,7.6) (5.414,7.0) (5.420,6.6) (5.426,7.2) (5.432,6.2) (5.438,5.6) (5.444,5.0) (5.450,5.4) (5.456,4.6) (5.462,5.2) (5.468,4.4) (5.474,3.8) (5.480,4.6) (5.486,3.4) (5.492,2.8) (5.498,3.2) (5.504,2.5) (5.510,3.6) (5.516,5.0) (5.522,6.2) (5.528,7.2) (5.534,8.0) (5.540,7.0) (5.546,6.0) (5.552,7.0) (5.558,6.2) (5.564,6.8) (5.570,5.8) (5.576,6.6) (5.582,6.0) (5.588,5.6) (5.594,6.4) (5.600,5.4) (5.606,6.0) (5.612,5.2) (5.618,5.8) (5.624,5.0) (5.630,6.0) (5.636,5.4) (5.642,6.4) (5.648,5.6) (5.654,6.8) (5.660,7.6) (5.666,8.2) (5.672,7.4) (5.678,8.0) (5.684,7.2) (5.690,7.8) (5.696,7.4) (5.702,8.2) (5.708,7.6) (5.714,8.0) (5.720,7.2)
};
\addlegendentry{East}

\node[anchor=west, font=\fontsize{8.6}{10}\selectfont\bfseries] at (rel axis cs:0.022,0.959) {GARD GNSS station};
\draw[gray, line width=0.7pt] (rel axis cs:0,1) -- (rel axis cs:1,1) -- (rel axis cs:1,0);
\coordinate (o) at (rel axis cs:0,0);
\end{axis}
\path (o) ++(-48.5pt,-67.5pt) rectangle ++(583.5pt,354pt);
\end{tikzpicture}
\end{document}
